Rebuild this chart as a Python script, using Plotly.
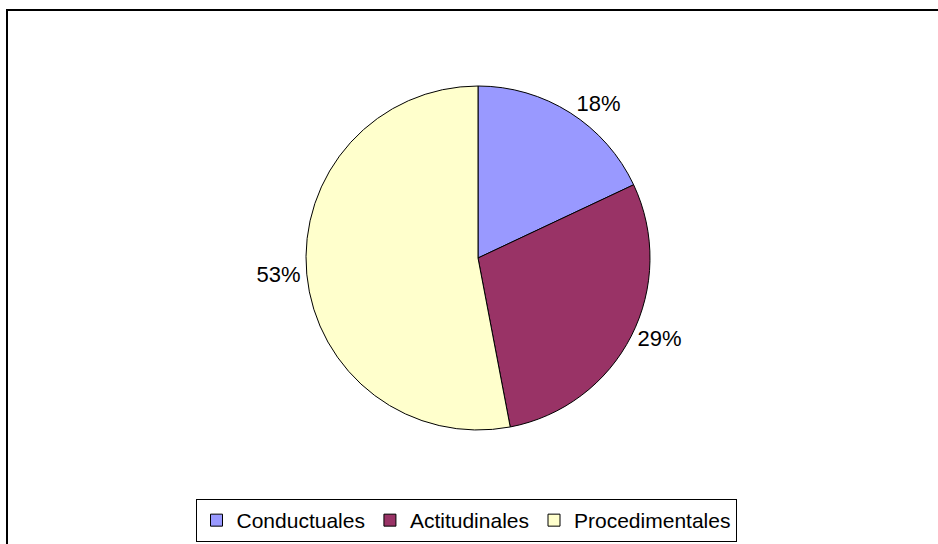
import plotly.graph_objects as go

# data
categories = ["Conductuales", "Actitudinales", "Procedimentales"]
values = [18, 29, 53]
slice_colors = ["#9999FF", "#993366", "#FFFFCC"]

W, H = 938, 544
FONT = "Liberation Sans, Arial, sans-serif"

fig = go.Figure()

fig.add_trace(go.Pie(
    labels=categories,
    values=values,
    sort=False,
    direction="clockwise",
    rotation=0,
    marker=dict(colors=slice_colors, line=dict(color="black", width=1)),
    texttemplate="%{percent:.0%}",
    textposition="outside",
    outsidetextfont=dict(family=FONT, size=22, color="black"),
    domain=dict(x=[(478 - 172) / W, (478 + 172) / W],
                y=[(H - 430) / H, (H - 86) / H]),
    hoverinfo="label+percent",
))

fig.update_layout(
    width=W,
    height=H,
    margin=dict(l=0, r=0, t=0, b=0),
    paper_bgcolor="white",
    plot_bgcolor="white",
    font=dict(family=FONT, color="black"),
    showlegend=True,
    legend=dict(
        orientation="h",
        x=466 / W, xanchor="center",
        y=2 / H, yanchor="bottom",
        bordercolor="black",
        borderwidth=1,
        bgcolor="white",
        font=dict(size=21, color="black"),
        itemwidth=30,
        traceorder="normal",
    ),
    # chart area frame (cropped at right/bottom like the original)
    shapes=[dict(
        type="rect", xref="paper", yref="paper",
        x0=7 / W, x1=1.02, y0=-0.02, y1=(H - 10) / H,
        line=dict(color="black", width=2),
        fillcolor="rgba(0,0,0,0)",
        layer="below",
    )],
)

fig.write_html(
    "out.html",
    config={"displayModeBar": False},
    post_script="document.body.style.margin='0';",
)
